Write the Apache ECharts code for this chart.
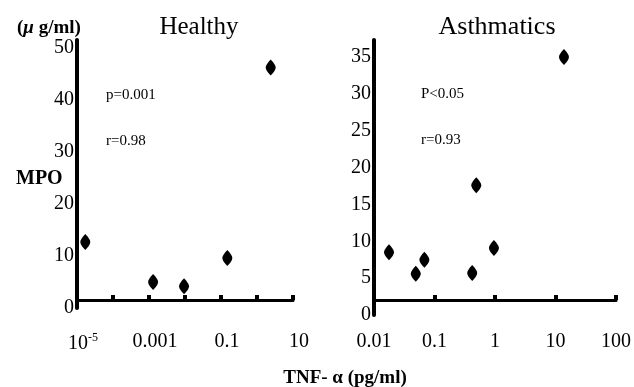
<!DOCTYPE html>
<html><head><meta charset="utf-8">
<script src="https://cdn.jsdelivr.net/npm/echarts@6/dist/echarts.min.js"></script>
<style>html,body{margin:0;padding:0;background:#fff}#c{width:634px;height:387px}</style>
</head><body><div id="c"></div>
<script>
// Data
const healthyTNF = [1.7e-5, 0.0013, 0.0094, 0.15, 2.4];
const healthyMPO = [12.7, 5.0, 4.2, 9.6, 46.2];
const asthmaTNF = [0.0177, 0.049, 0.068, 0.42, 0.49, 0.96, 13.8];
const asthmaMPO = [8.5, 5.6, 7.5, 5.7, 17.6, 9.1, 35.0];
const healthyYTicks = [0, 10, 20, 30, 40, 50];
const asthmaYTicks = [0, 5, 10, 15, 20, 25, 30, 35];
const healthyXLabels = { '-5': '{b|10}{s|-5}', '-3': '0.001', '-1': '0.1', '1': '10' };
const asthmaXLabels = { '-2': '0.01', '-1': '0.1', '0': '1', '1': '10', '2': '100' };

const SERIF = '"Liberation Serif","DejaVu Serif",serif';
const marker = 'path://M5,0 C8,3 10,6 10,8 C10,10 8,13 5,16 C2,13 0,10 0,8 C0,6 2,3 5,0 Z';

function pairs(xs, ys) { return xs.map((x, i) => [x, ys[i]]); }
function xFmt(map) {
  return function (v) { const e = Math.round(Math.log10(v)); return map[String(e)] || ''; };
}
function yFmt(ticks) {
  return function (v) { return ticks.indexOf(Math.round(v * 1000) / 1000) >= 0 ? String(v) : ''; };
}
function xAxisDef(gi, min, max, map, off, padLeft) {
  return {
    gridIndex: gi, type: 'log', logBase: 10, min: min, max: max, offset: off,
    axisLine: { show: true, lineStyle: { color: '#000', width: 3 } },
    axisTick: { show: true, inside: true, length: 5, lineStyle: { color: '#000', width: 4 } },
    splitLine: { show: false }, minorTick: { show: false },
    axisLabel: {
      margin: 32, color: '#000', fontFamily: SERIF, fontSize: 20,
      padding: [0, 0, 0, padLeft],
      formatter: xFmt(map), showMinLabel: true, showMaxLabel: true,
      rich: { b: { fontFamily: SERIF, fontSize: 20, color: '#000', verticalAlign: 'bottom' },
              s: { fontFamily: SERIF, fontSize: 12, color: '#000', verticalAlign: 'top', padding: [0, 0, 10, 0] } }
    }
  };
}
function yAxisDef(gi, max, interval, ticks) {
  return {
    gridIndex: gi, type: 'value', min: 0, max: max, interval: interval,
    axisLine: { show: true, lineStyle: { color: '#000', width: 4 } },
    axisTick: { show: false }, splitLine: { show: false },
    axisLabel: { margin: 3, color: '#000', fontFamily: SERIF, fontSize: 20, formatter: yFmt(ticks),
                 showMaxLabel: false }
  };
}

const chart = echarts.init(document.getElementById('c'));
chart.setOption({
  backgroundColor: '#fff',
  animation: false,
  grid: [
    { left: 77, right: 341, top: 40, bottom: 79 },
    { left: 374, right: 17, top: 40, bottom: 72 }
  ],
  xAxis: [
    xAxisDef(0, 1e-5, 10, healthyXLabels, -8, 12),
    xAxisDef(1, 0.01, 100, asthmaXLabels, -15, 0)
  ],
  yAxis: [
    yAxisDef(0, 51.5, 10, healthyYTicks),
    yAxisDef(1, 37.3, 5, asthmaYTicks)
  ],
  title: [
    { text: 'Healthy', left: 194, top: 10, textAlign: 'center', textStyle: { fontFamily: SERIF, fontSize: 25, fontWeight: 'normal', color: '#000' } },
    { text: 'Asthmatics', left: 492, top: 9, textAlign: 'center', textStyle: { fontFamily: SERIF, fontSize: 26, fontWeight: 'normal', color: '#000' } },
    { text: '({i|μ} g/ml)', left: 12, top: 14, textStyle: { fontFamily: SERIF, fontSize: 19, fontWeight: 'bold', color: '#000',
        rich: { i: { fontFamily: SERIF, fontSize: 19, fontStyle: 'italic', fontWeight: 'bold', color: '#000' } } } },
    { text: 'MPO', left: 11, top: 164, textStyle: { fontFamily: SERIF, fontSize: 20, fontWeight: 'bold', color: '#000' } },
    { text: 'TNF- α (pg/ml)', left: 340, top: 364, textAlign: 'center', textStyle: { fontFamily: SERIF, fontSize: 19, fontWeight: 'bold', color: '#000' } },
    { text: 'p=0.001', left: 101, top: 83, textStyle: { fontFamily: SERIF, fontSize: 15, fontWeight: 'normal', color: '#000' } },
    { text: 'r=0.98', left: 101, top: 129, textStyle: { fontFamily: SERIF, fontSize: 15, fontWeight: 'normal', color: '#000' } },
    { text: 'P<0.05', left: 416, top: 82, textStyle: { fontFamily: SERIF, fontSize: 15, fontWeight: 'normal', color: '#000' } },
    { text: 'r=0.93', left: 416, top: 128, textStyle: { fontFamily: SERIF, fontSize: 15, fontWeight: 'normal', color: '#000' } }
  ],
  series: [
    { type: 'scatter', xAxisIndex: 0, yAxisIndex: 0, data: pairs(healthyTNF, healthyMPO),
      symbol: marker, symbolSize: [10, 16], itemStyle: { color: '#000', opacity: 1 } },
    { type: 'scatter', xAxisIndex: 1, yAxisIndex: 1, data: pairs(asthmaTNF, asthmaMPO),
      symbol: marker, symbolSize: [10, 16], itemStyle: { color: '#000', opacity: 1 } }
  ]
});
</script>
</body></html>
